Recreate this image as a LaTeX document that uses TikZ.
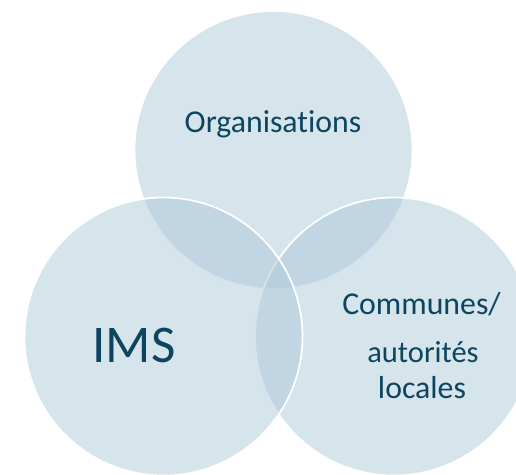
\documentclass[tikz,border=0pt]{standalone}
\usepackage{fontspec}
\setmainfont{Carlito}[Ligatures={NoCommon,NoRare,NoContextual}]
\definecolor{vennblue}{RGB}{173,201,217}
\definecolor{venntext}{RGB}{13,69,95}
\tikzset{
	venn/.style={circle, minimum size=278pt, inner sep=0pt, fill=vennblue,
		fill opacity=0.5, draw=white, line width=1.7pt},
	venntxt/.style={text=venntext, anchor=base, inner sep=0pt,
		font=\fontsize{31.8}{38}\selectfont}
}
\begin{document}
\begin{tikzpicture}[x=1pt, y=-1pt]
	\useasboundingbox (0,0) rectangle (516,474);
	\clip (0,0) rectangle (516,474);

	% circles, left one last so its rim stays on top
	\node[venn] (org) at (273.5,150) {};
	\node[venn] (com) at (394,336.5) {};
	\node[venn] (ims) at (163.5,336.5) {};

	\node[venntxt] (orgtxt) at (273,132.5) {Organisations};
	\node[venntxt, font=\fontsize{53}{60}\selectfont] (imstxt) at (134,362.5) {IMS};
	\node[venntxt] (comtxt1) at (421.5,314) {Communes/};
	\node[venntxt, font=\fontsize{30.5}{36}\selectfont] (comtxt2) at (423,362) {autorités};
	\node[venntxt] (comtxt3) at (422,398) {locales};
\end{tikzpicture}
\end{document}
